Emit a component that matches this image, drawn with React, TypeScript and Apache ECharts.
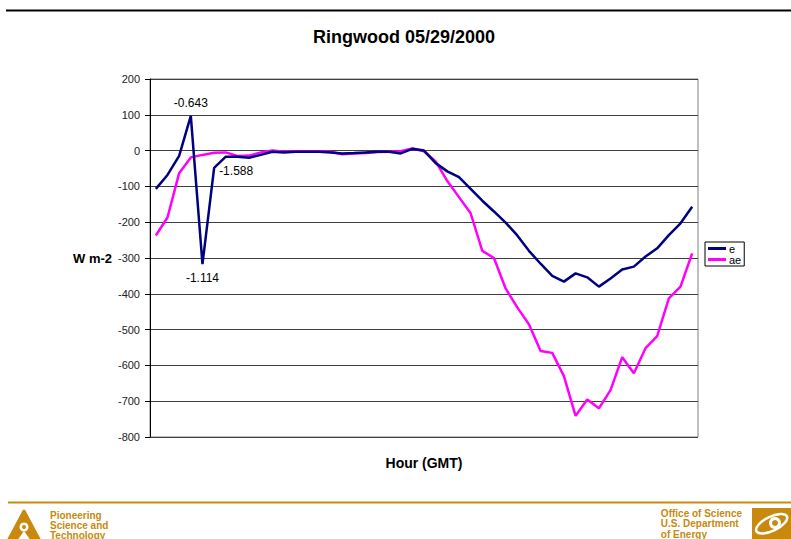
import React, { useEffect, useRef } from "react";
import * as echarts from "echarts";

const categories = [
  "0:00", "0:30", "1:00", "1:30", "2:00", "2:30", "3:00", "3:30", "4:00", "4:30",
  "5:00", "5:30", "6:00", "6:30", "7:00", "7:30", "8:00", "8:30", "9:00", "9:30",
  "10:00", "10:30", "11:00", "11:30", "12:00", "12:30", "13:00", "13:30", "14:00", "14:30",
  "15:00", "15:30", "16:00", "16:30", "17:00", "17:30", "18:00", "18:30", "19:00", "19:30",
  "20:00", "20:30", "21:00", "21:30", "22:00", "22:30", "23:00",
];

const eValues = [
  -107, -68, -15, 97, -317, -48, -17, -17, -20, -12,
  -3, -5, -3, -3, -3, -5, -8, -7, -5, -3,
  -3, -8, 5, 0, -35, -58, -74, -107, -140, -170,
  -201, -237, -280, -316, -350, -366, -343, -354, -380, -357,
  -332, -324, -296, -273, -236, -203, -157,
];

const aeValues = [
  -237, -187, -63, -19, -12, -6, -5, -15, -14, -5,
  0, -3, -2, -2, -2, -3, -10, -8, -7, -4,
  -3, -2, 6, -2, -30, -85, -130, -175, -280, -300,
  -385, -438, -485, -560, -565, -630, -741, -695, -720, -669,
  -577, -622, -552, -518, -413, -380, -287,
];

const labelIndices = [3, 4, 5];
const labelTexts = ["-0.643", "-1.114", "-1.588"];

const yTicks = { min: -800, max: 200, interval: 100 };

const FONT = 'Arial, "Liberation Sans", sans-serif';
const GOLD = "#C8890E";

export default function App() {
  const ref = useRef<HTMLDivElement>(null);

  useEffect(() => {
    if (!ref.current) return;
    const chart = echarts.init(ref.current, null, { renderer: "svg" });

    const labelPos = ["top", "bottom", "right"];
    const eData = eValues.map((v, i) => {
      const k = labelIndices.indexOf(i);
      if (k < 0) return v;
      return {
        value: v,
        label: {
          show: true,
          formatter: labelTexts[k],
          position: labelPos[k],
          distance: k === 0 ? 7 : k === 1 ? 8 : 5,
          offset: k === 2 ? [0, 3] : [0, 0],
          fontSize: 12,
          fontFamily: FONT,
          color: "#000",
        },
      };
    });

    chart.setOption({
      animation: false,
      backgroundColor: "#fff",
      title: {
        text: "Ringwood 05/29/2000",
        left: 404,
        textAlign: "center",
        top: 28,
        padding: 0,
        textStyle: { fontSize: 18, fontWeight: "bold", fontFamily: FONT, color: "#000" },
      },
      legend: {
        orient: "vertical",
        left: 705,
        top: 242,
        borderColor: "#000",
        borderWidth: 1,
        padding: [1, 3, 1, 3],
        itemGap: 0,
        icon: "rect",
        itemWidth: 18,
        itemHeight: 3,
        textStyle: { fontSize: 11, fontFamily: FONT, color: "#000", padding: [0, 0, 0, -2] },
        data: ["e", "ae"],
      },
      grid: {
        left: 150,
        right: 93,
        top: 79,
        bottom: 102,
        show: true,
        borderColor: "#808080",
        borderWidth: 1,
        backgroundColor: "transparent",
      },
      xAxis: {
        type: "category",
        data: categories,
        boundaryGap: true,
        name: "Hour (GMT)",
        nameLocation: "middle",
        nameGap: 19,
        nameTextStyle: { fontSize: 14, fontWeight: "bold", fontFamily: FONT, color: "#000" },
        axisLine: { show: false },
        axisTick: { show: false },
        axisLabel: { show: false },
        splitLine: { show: false },
      },
      yAxis: {
        type: "value",
        min: yTicks.min,
        max: yTicks.max,
        interval: yTicks.interval,
        name: "W m-2",
        nameLocation: "middle",
        nameRotate: 0,
        nameGap: 37,
        nameTextStyle: { fontSize: 13, fontWeight: "bold", fontFamily: FONT, color: "#000" },
        axisLine: { show: true, lineStyle: { color: "#000", width: 1 } },
        axisTick: { show: true, inside: false, length: 5, lineStyle: { color: "#000" } },
        axisLabel: { fontSize: 11, fontFamily: FONT, color: "#222", margin: 10 },
        splitLine: { show: true, lineStyle: { color: "#404040", width: 1 } },
      },
      series: [
        {
          name: "e",
          type: "line",
          data: eData,
          symbol: "circle",
          symbolSize: 0,
          showSymbol: true,
          lineStyle: { color: "#000080", width: 2.5 },
          itemStyle: { color: "#000080" },
          z: 3,
        },
        {
          name: "ae",
          type: "line",
          data: aeValues,
          symbol: "none",
          showSymbol: false,
          lineStyle: { color: "#FF00FF", width: 2.5 },
          itemStyle: { color: "#FF00FF" },
          z: 2,
        },
      ],
      graphic: [
        { type: "line", shape: { x1: 6, y1: 10.5, x2: 791, y2: 10.5 }, style: { stroke: "#000", lineWidth: 2 } },
        { type: "line", shape: { x1: 8, y1: 502.5, x2: 791, y2: 502.5 }, style: { stroke: GOLD, lineWidth: 2 } },
        {
          type: "polygon",
          shape: { points: [[8, 541], [24, 511], [40, 541]] },
          style: { fill: GOLD, stroke: GOLD, lineWidth: 3, lineJoin: "round" },
        },
        { type: "circle", shape: { cx: 24, cy: 527, r: 4.5 }, style: { fill: "#fff" } },
        {
          type: "polygon",
          shape: { points: [[17, 541], [24, 531], [31, 541]] },
          style: { fill: "#fff" },
        },
        { type: "circle", shape: { cx: 24, cy: 527, r: 2 }, style: { fill: GOLD } },
        {
          type: "text",
          left: 50,
          top: 510,
          style: {
            text: "Pioneering\nScience and\nTechnology",
            font: "bold 10px " + FONT,
            fill: GOLD,
            lineHeight: 10,
          },
        },
        {
          type: "text",
          right: 49,
          top: 508,
          style: {
            text: "Office of Science\nU.S. Department\nof Energy",
            font: "bold 10px " + FONT,
            fill: GOLD,
            lineHeight: 10.5,
            align: "right",
          },
        },
        { type: "rect", shape: { x: 752, y: 508, width: 39, height: 31 }, style: { fill: GOLD } },
        {
          type: "ellipse",
          shape: { cx: 772, cy: 524, rx: 17, ry: 7 },
          rotation: 0.45,
          originX: 772,
          originY: 524,
          style: { fill: "none", stroke: "#fff", lineWidth: 2.5 },
        },
        { type: "circle", shape: { cx: 775, cy: 523, r: 6 }, style: { fill: "#fff" } },
        { type: "circle", shape: { cx: 775, cy: 523, r: 3 }, style: { fill: GOLD } },
      ],
    });

    return () => chart.dispose();
  }, []);

  return (
    <div
      ref={ref}
      style={{ position: "fixed", left: 0, top: 0, width: 791, height: 539, background: "#fff" }}
    />
  );
}
